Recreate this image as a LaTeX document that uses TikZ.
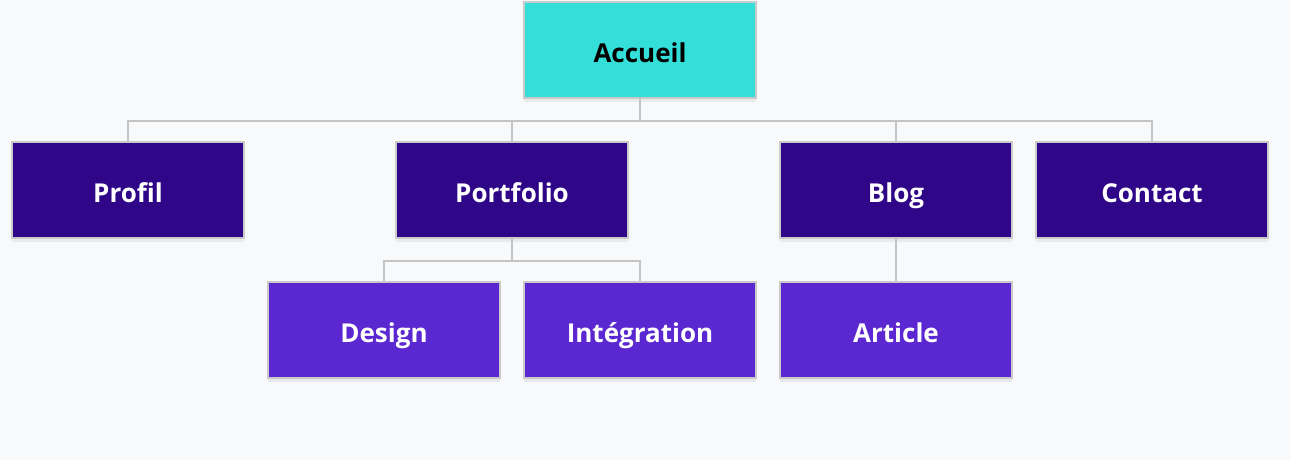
\documentclass[tikz,border=0pt]{standalone}
\usepackage{fontspec}
\setmainfont{Open Sans}
\usetikzlibrary{shadows}
\definecolor{bgc}{HTML}{F8F9FB}
\definecolor{topc}{HTML}{34DFD9}
\definecolor{midc}{HTML}{2E0687}
\definecolor{lowc}{HTML}{5B27D0}
\definecolor{edgec}{HTML}{CACACA}
\definecolor{linec}{HTML}{C4C4C4}
\begin{document}
\begin{tikzpicture}[x=1pt,y=-1pt,
  box/.style={rectangle, draw=edgec, line width=2pt, minimum width=232pt, minimum height=96pt, inner sep=0pt,
    text height=25pt, text depth=0pt,
    font=\fontsize{26}{30}\selectfont\bfseries,
    drop shadow={shadow xshift=0pt, shadow yshift=-4pt, opacity=0.06, fill=black}},
  topbox/.style={box, fill=topc, text=black},
  midbox/.style={box, fill=midc, text=white},
  lowbox/.style={box, fill=lowc, text=white},
  conn/.style={draw=linec, line width=2pt}]
\fill[bgc] (0,0) rectangle (1290,460);
\useasboundingbox (0,0) rectangle (1290,460);
\node[topbox] (acc) at (640,50) {Accueil};
\node[midbox] (profil) at (128,190) {Profil};
\node[midbox] (port) at (512,190) {Portfolio};
\node[midbox] (blog) at (896,190) {Blog};
\node[midbox] (contact) at (1152,190) {Contact};
\node[lowbox] (design) at (384,330) {Design};
\node[lowbox] (integ) at (640,330) {Intégration};
\node[lowbox] (article) at (896,330) {Article};
\draw[conn] (acc.south) -- ++(0,22) -| (profil.north);
\draw[conn] (acc.south) -- ++(0,22) -| (port.north);
\draw[conn] (acc.south) -- ++(0,22) -| (blog.north);
\draw[conn] (acc.south) -- ++(0,22) -| (contact.north);
\draw[conn] (port.south) -- ++(0,22) -| (design.north);
\draw[conn] (port.south) -- ++(0,22) -| (integ.north);
\draw[conn] (blog.south) -- (article.north);
\end{tikzpicture}
\end{document}
